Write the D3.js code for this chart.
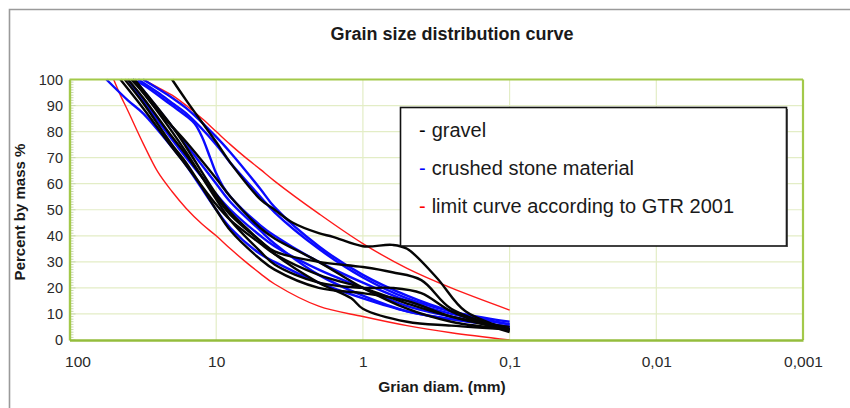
<!DOCTYPE html>
<html><head><meta charset="utf-8">
<script src="https://cdn.jsdelivr.net/npm/d3@7"></script>
<style>
html,body{margin:0;padding:0;background:#fff;}
svg{display:block;}
</style></head>
<body>
<svg id="chart" width="850" height="408"></svg>
<script>
// ---- data ----
const title = "Grain size distribution curve";
const xTitle = "Grian diam. (mm)";
const yTitle = "Percent by mass %";
const xTickValues = [100, 10, 1, 0.1, 0.01, 0.001];
const xTickLabels = ["100", "10", "1", "0,1", "0,01", "0,001"];
const yTickValues = [0, 10, 20, 30, 40, 50, 60, 70, 80, 90, 100];
const legendLabels = ["gravel", "crushed stone material", "limit curve according to GTR 2001"];

// limit curves (GTR 2001): [diameter mm, % passing]
const limitLower = [[50,100],[45,94],[40,88],[31.5,75.5],[25,64.5],[20,57],[16,50.5],[12.5,44.5],[10,40],[8,35],[6.3,30],[5,25.5],[4,21.5],[2,13],[1,9],[0.5,5.5],[0.25,2.8],[0.1,0]];
const limitUpper = [[31.5,100],[25,97],[20,94],[16,90],[12.5,85],[10,80],[8,75],[6.3,70],[5,65.5],[4,61],[2,48.5],[1,37],[0.5,27.5],[0.25,20],[0.1,11.5]];

// gravel curves
const gravel1 = [[20,100],[16,92],[10,76],[8,68],[5,54],[4,50],[3,45],[2,41],[1.6,39.6],[1,36],[0.63,36.5],[0.5,35],[0.315,24],[0.2,11],[0.1,4]];
const gravel2 = [[45,100],[31.5,89],[20,74],[16,67],[10,52],[8,46],[5,37],[4,33],[2,25],[1,20],[0.5,14],[0.25,9],[0.1,5]];
const gravel3 = [[40,100],[31.5,93],[20,78],[16,71],[10,55],[8,48],[5,38],[4,34],[2,30],[1,28],[0.63,26],[0.4,23],[0.25,12],[0.1,4]];
const gravel4 = [[38,100],[31.5,95],[20,80],[16,72],[10,54],[8,46],[5,34],[4,29],[2,22],[1,20],[0.63,20],[0.4,18],[0.25,11],[0.1,3]];
const gravel5 = [[36,100],[31.5,96],[20,82],[16,74],[10,56],[8,49],[5,38],[4,33],[2,22],[1.2,16],[1,12],[0.5,7],[0.25,5.5],[0.1,4]];
const gravel6 = [[42,100],[31.5,91],[20,75],[16,68],[10,50],[8,42],[5,31],[4,27],[2,20],[1,18],[0.5,15],[0.25,9],[0.1,4]];
const gravel7 = [[37,100],[25,88],[20,82],[16,76],[10,62],[8,55],[5,43],[4,39],[2,30],[1,20],[0.5,12],[0.25,7],[0.1,4]];

// crushed stone curves
const crushed1 = [[56,100],[40,92],[31.5,87],[20,74],[16,67],[10,50],[8,43],[5,33],[4,30],[2,22],[1,16],[0.5,11],[0.25,8],[0.1,5]];
const crushed2 = [[37,100],[31.5,98],[20,90],[16,86],[14,83],[12.5,78],[11,70],[10,64],[9,59],[8,55],[5,44],[4,40],[2,30],[1,22],[0.5,15],[0.25,10],[0.1,6]];
const crushed3 = [[34,100],[25,95],[20,91],[16,87],[10,75],[8,68],[5,55],[4,49],[2,35],[1,24],[0.5,16],[0.25,11],[0.1,7]];
const crushed4 = [[31.5,100],[20,93],[16,89],[10,78],[8,72],[5,58],[4,51],[2,36],[1,25],[0.5,17],[0.25,11],[0.1,6]];
const crushed5 = [[40,100],[31.5,92],[20,77],[16,70],[10,56],[8,50],[5,40],[4,36],[2,27],[1,20],[0.5,13],[0.25,9],[0.1,5]];
const crushed6 = [[36,100],[31.5,96],[20,82],[16,75],[10,60],[8,53],[5,42],[4,37],[2,25],[1,17],[0.5,11],[0.25,8],[0.1,5]];

const gravelCurves = [gravel1, gravel2, gravel3, gravel4, gravel5, gravel6, gravel7];
const crushedCurves = [crushed1, crushed2, crushed3, crushed4, crushed5, crushed6];
const limitCurves = [limitLower, limitUpper];

// ---- drawing ----
const svg = d3.select("#chart");
const W = 850, H = 408;
const plot = {left: 69.5, right: 803, top: 79.5, bottom: 340};

const x = d3.scaleLog().domain([100, 0.001]).range([plot.left, plot.right]);
const y = d3.scaleLinear().domain([0, 100]).range([plot.bottom, plot.top]);

const green = "#a3c94a";
const gridGreen = "#e3edc6";
const sans = "Liberation Sans, Arial, sans-serif";
const narrow = "Liberation Sans Narrow, Arial Narrow, Liberation Sans, sans-serif";

// outer frame
svg.append("path").attr("d", `M9.5,${H} V9.5 H${W}`).attr("fill","none").attr("stroke","#9a9a9a").attr("stroke-width",1.6);

// title
svg.append("text").attr("x", 452).attr("y", 40).attr("text-anchor","middle")
  .attr("font-family", sans).attr("font-weight","bold").attr("font-size",18)
  .attr("fill","#1a1a1a").text(title);

// grid
const g = svg.append("g");
g.selectAll("line.hg").data(yTickValues.filter(v => v > 0 && v < 100)).join("line")
  .attr("x1", plot.left).attr("x2", plot.right).attr("y1", d => y(d)).attr("y2", d => y(d))
  .attr("stroke", gridGreen).attr("stroke-width", 1.2);
g.selectAll("line.vg").data(xTickValues.slice(1, -1)).join("line")
  .attr("x1", d => x(d)).attr("x2", d => x(d)).attr("y1", plot.top).attr("y2", plot.bottom)
  .attr("stroke", gridGreen).attr("stroke-width", 1.2);

// minor ticks on y axis
const minor = d3.range(1, 100).filter(v => v % 10 !== 0);
g.selectAll("line.mt").data(minor).join("line")
  .attr("x1", plot.left).attr("x2", plot.left + 4).attr("y1", d => y(d)).attr("y2", d => y(d))
  .attr("stroke", "#c9d6b0").attr("stroke-width", 1);
g.selectAll("line.Mt").data(yTickValues).join("line")
  .attr("x1", plot.left).attr("x2", plot.left + 6).attr("y1", d => y(d)).attr("y2", d => y(d))
  .attr("stroke", "#c9d6b0").attr("stroke-width", 1);

// series
const line = d3.line().x(d => x(d[0])).y(d => y(d[1])).curve(d3.curveCatmullRom.alpha(0.5));
const series = svg.append("g");
series.selectAll("path.lim").data(limitCurves).join("path")
  .attr("d", line).attr("fill","none").attr("stroke","#ff1a1a").attr("stroke-width",1.4);
series.selectAll("path.cr").data(crushedCurves).join("path")
  .attr("d", line).attr("fill","none").attr("stroke","#0a0aff").attr("stroke-width",2.4);
series.selectAll("path.gr").data(gravelCurves).join("path")
  .attr("d", line).attr("fill","none").attr("stroke","#050505").attr("stroke-width",2.4);

// plot frame
svg.append("line").attr("x1", plot.left).attr("x2", plot.right).attr("y1", plot.top).attr("y2", plot.top)
  .attr("stroke", green).attr("stroke-width", 2.2);
svg.append("line").attr("x1", plot.right).attr("x2", plot.right).attr("y1", plot.top).attr("y2", plot.bottom)
  .attr("stroke", green).attr("stroke-width", 2.2);

// axes
const yAxis = d3.axisLeft(y).tickValues(yTickValues).tickSize(0).tickPadding(6.5).tickFormat(d3.format("d"));
const ya = svg.append("g").attr("transform", `translate(${plot.left},0)`).call(yAxis);
ya.select(".domain").attr("stroke", green).attr("stroke-width", 2.4);
ya.selectAll("text").attr("font-family", sans).attr("font-size",14.5).attr("fill","#2a2a2a");

const xAxis = d3.axisBottom(x).tickValues(xTickValues).tickSize(0).tickPadding(16)
  .tickFormat((d, i) => xTickLabels[i]);
const xa = svg.append("g").attr("transform", `translate(0,${plot.bottom})`).call(xAxis);
xa.select(".domain").attr("stroke", "#94bd3c").attr("stroke-width", 2.6);
xa.selectAll("text").attr("font-family", narrow).attr("font-size",15.5).attr("fill","#2a2a2a")
  .attr("dx", (d, i) => i === 0 ? 8 : 0);

// axis titles
svg.append("text").attr("x", 442).attr("y", 392).attr("text-anchor","middle")
  .attr("font-family", narrow).attr("font-weight","bold").attr("font-size",15.5)
  .attr("fill","#1a1a1a").text(xTitle);
svg.append("text").attr("transform", "translate(25,212) rotate(-90)").attr("text-anchor","middle")
  .attr("font-family", sans).attr("font-weight","bold").attr("font-size",15)
  .attr("fill","#1a1a1a").text(yTitle);

// legend
const lg = svg.append("g");
lg.append("rect").attr("x", 400.5).attr("y", 107.5).attr("width", 386).attr("height", 138.5)
  .attr("fill","#fff").attr("stroke","#111").attr("stroke-width",1.6);
lg.append("line").attr("x1", 787.2).attr("x2", 787.2).attr("y1", 109).attr("y2", 247).attr("stroke","#333").attr("stroke-width",1.2);
const legendColors = ["#000", "#0000ff", "#ff0000"];
const legendY = [137, 175, 213];
legendLabels.forEach((lab, i) => {
  const t = lg.append("text").attr("x", 419).attr("y", legendY[i])
    .attr("font-family", sans).attr("font-size",20).attr("fill","#1a1a1a");
  t.append("tspan").attr("fill", legendColors[i]).text("-");
  t.append("tspan").attr("dx", 6).text(lab);
});
</script>
</body></html>
